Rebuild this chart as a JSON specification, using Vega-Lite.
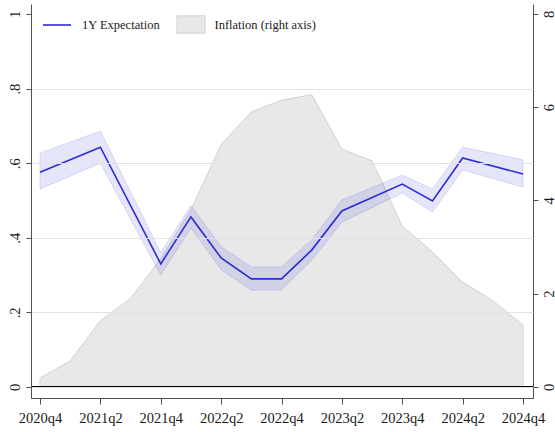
{
  "$schema": "https://vega.github.io/schema/vega-lite/v6.json",
  "width": 502,
  "height": 394,
  "autosize": "none",
  "padding": {"left": 31, "top": 4, "right": 22, "bottom": 34},
  "background": "white",
  "config": {
    "view": {"stroke": null},
    "font": "Liberation Serif",
    "axis": {"labelFont": "Liberation Serif", "labelColor": "#1a1a1a", "domainColor": "#505050", "tickColor": "#505050", "titleFont": "Liberation Serif"},
    "legend": {"labelFont": "Liberation Serif", "labelFontSize": 12.5, "labelColor": "#1a1a1a"}
  },
  "datasets": {
    "expect": [
      {"quarter": "2020q4", "t": 0, "exp": 0.576, "lo": 0.531, "hi": 0.627},
      {"quarter": "2021q2", "t": 2, "exp": 0.643, "lo": 0.600, "hi": 0.686},
      {"quarter": "2021q4", "t": 4, "exp": 0.330, "lo": 0.300, "hi": 0.360},
      {"quarter": "2022q1", "t": 5, "exp": 0.456, "lo": 0.426, "hi": 0.486},
      {"quarter": "2022q2", "t": 6, "exp": 0.346, "lo": 0.314, "hi": 0.376},
      {"quarter": "2022q3", "t": 7, "exp": 0.290, "lo": 0.260, "hi": 0.322},
      {"quarter": "2022q4", "t": 8, "exp": 0.290, "lo": 0.260, "hi": 0.322},
      {"quarter": "2023q1", "t": 9, "exp": 0.367, "lo": 0.340, "hi": 0.395},
      {"quarter": "2023q2", "t": 10, "exp": 0.472, "lo": 0.442, "hi": 0.501},
      {"quarter": "2023q4", "t": 12, "exp": 0.544, "lo": 0.520, "hi": 0.568},
      {"quarter": "2024q1", "t": 13, "exp": 0.499, "lo": 0.469, "hi": 0.531},
      {"quarter": "2024q2", "t": 14, "exp": 0.614, "lo": 0.582, "hi": 0.643},
      {"quarter": "2024q4", "t": 16, "exp": 0.571, "lo": 0.536, "hi": 0.609}
    ],
    "inflation": [
      {"quarter": "2020q4", "t": 0, "infl": 0.19},
      {"quarter": "2021q1", "t": 1, "infl": 0.56},
      {"quarter": "2021q2", "t": 2, "infl": 1.42},
      {"quarter": "2021q3", "t": 3, "infl": 1.9},
      {"quarter": "2021q4", "t": 4, "infl": 2.75},
      {"quarter": "2022q1", "t": 5, "infl": 3.8},
      {"quarter": "2022q2", "t": 6, "infl": 5.2},
      {"quarter": "2022q3", "t": 7, "infl": 5.9},
      {"quarter": "2022q4", "t": 8, "infl": 6.15},
      {"quarter": "2023q1", "t": 9, "infl": 6.27},
      {"quarter": "2023q2", "t": 10, "infl": 5.1},
      {"quarter": "2023q3", "t": 11, "infl": 4.85},
      {"quarter": "2023q4", "t": 12, "infl": 3.45},
      {"quarter": "2024q1", "t": 13, "infl": 2.9},
      {"quarter": "2024q2", "t": 14, "infl": 2.25},
      {"quarter": "2024q3", "t": 15, "infl": 1.85},
      {"quarter": "2024q4", "t": 16, "infl": 1.33}
    ]
  },
  "layer": [
    {
      "data": {"name": "inflation"},
      "mark": {"type": "area", "stroke": "#d2d2d2", "strokeWidth": 1},
      "encoding": {
        "x": {
          "field": "t", "type": "quantitative",
          "scale": {"domain": [-0.298, 16.33], "nice": false, "zero": false},
          "axis": {
            "values": [0, 2, 4, 6, 8, 10, 12, 14, 16],
            "labelExpr": "(2020 + floor((datum.value + 3) / 4)) + 'q' + ((datum.value + 3) % 4 + 1)",
            "grid": false, "title": null, "tickSize": 6, "labelFontSize": 14.5, "labelPadding": 7, "labelFlush": false
          }
        },
        "y": {
          "field": "infl", "type": "quantitative",
          "scale": {"domain": [-0.236, 8.214], "nice": false, "zero": false},
          "axis": {
            "orient": "right", "values": [0, 2, 4, 6, 8], "grid": false, "title": null,
            "labelAngle": -90, "tickSize": 5, "labelFontSize": 14.5, "labelPadding": 4
          }
        },
        "fill": {
          "datum": "Inflation (right axis)",
          "scale": {"range": ["#e8e8e8"]},
          "legend": {
            "title": null, "orient": "none", "legendX": 145.5, "legendY": 6,
            "symbolType": "M-1,-0.62L1,-0.62L1,0.62L-1,0.62Z", "symbolSize": 784,
            "symbolStrokeColor": "#d0d0d0", "symbolStrokeWidth": 1, "labelOffset": 9, "padding": 0
          }
        }
      }
    },
    {
      "data": {"name": "expect"},
      "layer": [
        {
          "mark": {"type": "area", "fill": "#3a3ae0", "fillOpacity": 0.13, "stroke": "#5a5ae6", "strokeOpacity": 0.2, "strokeWidth": 1},
          "encoding": {
            "x": {"field": "t", "type": "quantitative"},
            "y": {
              "field": "lo", "type": "quantitative",
              "scale": {"domain": [-0.0295, 1.0268], "nice": false, "zero": false},
              "axis": {
                "orient": "left", "values": [0, 0.2, 0.4, 0.6, 0.8, 1], "title": null,
                "grid": true, "gridColor": "#e2e2e2", "gridWidth": 1,
                "gridOpacity": {"condition": {"test": "datum.value == 1", "value": 0}, "value": 1},
                "zindex": 1,
                "labelExpr": "datum.value > 0 && datum.value < 1 ? substring(format(datum.value, '.1f'), 1) : format(datum.value, 'd')",
                "labelAngle": -90, "tickSize": 5, "labelFontSize": 14.5, "labelPadding": 4
              }
            },
            "y2": {"field": "hi"}
          }
        },
        {
          "mark": {"type": "line", "strokeWidth": 1.6},
          "encoding": {
            "x": {"field": "t", "type": "quantitative"},
            "y": {"field": "exp", "type": "quantitative"},
            "stroke": {
              "datum": "1Y Expectation",
              "scale": {"range": ["#2b2bd8"]},
              "legend": {
                "title": null, "orient": "none", "legendX": 11, "legendY": 6,
                "symbolType": "stroke", "symbolSize": 784, "symbolStrokeWidth": 1.6,
                "labelOffset": 10, "padding": 0
              }
            }
          }
        },
        {
          "mark": {"type": "rule", "color": "#000000", "strokeWidth": 2},
          "encoding": {"y": {"datum": 0}}
        }
      ]
    }
  ],
  "resolve": {"scale": {"y": "independent"}}
}
